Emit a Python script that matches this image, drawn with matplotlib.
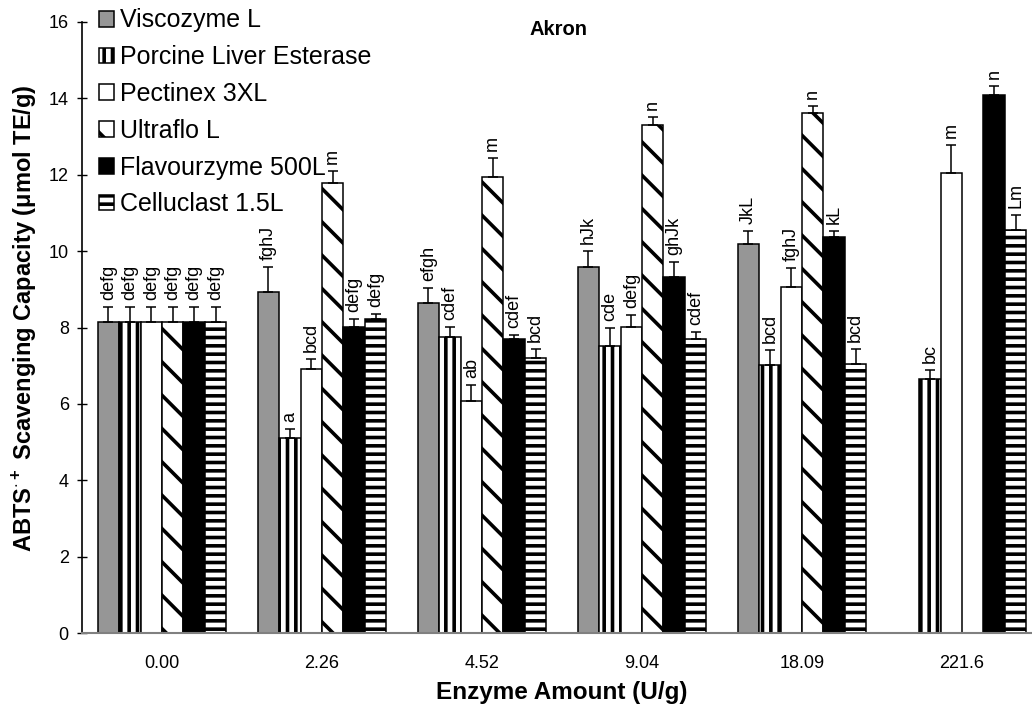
import numpy as np
import matplotlib
matplotlib.use("Agg")
import matplotlib.pyplot as plt

plt.rcParams['font.family'] = ['Liberation Sans', 'DejaVu Sans']
plt.rcParams['mathtext.fontset'] = 'custom'
plt.rcParams['mathtext.rm'] = 'Liberation Sans'
plt.rcParams['mathtext.bf'] = 'Liberation Sans:bold'
plt.rcParams['hatch.linewidth'] = 2.6
plt.rcParams['hatch.color'] = 'black'

nan = np.nan

amounts = ["0.00", "2.26", "4.52", "9.04", "18.09", "221.6"]
enzymes = ["Viscozyme L", "Porcine Liver Esterase", "Pectinex 3XL",
           "Ultraflo L", "Flavourzyme 500L", "Celluclast 1.5L"]

viscozyme   = [8.14, 8.93, 8.64, 9.58, 10.19, nan]
esterase    = [8.14, 5.11, 7.75, 7.51, 7.02, 6.65]
pectinex    = [8.14, 6.91, 6.07, 8.01, 9.06, 12.05]
ultraflo    = [8.14, 11.78, 11.94, 13.30, 13.62, nan]
flavourzyme = [8.14, 8.01, 7.70, 9.32, 10.37, 14.09]
celluclast  = [8.14, 8.22, 7.20, 7.70, 7.05, 10.55]

viscozyme_err   = [0.40, 0.65, 0.39, 0.42, 0.34, nan]
esterase_err    = [0.40, 0.23, 0.26, 0.48, 0.39, 0.25]
pectinex_err    = [0.40, 0.26, 0.42, 0.32, 0.50, 0.73]
ultraflo_err    = [0.40, 0.32, 0.50, 0.21, 0.18, nan]
flavourzyme_err = [0.40, 0.21, 0.10, 0.39, 0.16, 0.23]
celluclast_err  = [0.40, 0.13, 0.25, 0.18, 0.40, 0.40]

viscozyme_sig   = ["defg", "fghJ", "efgh", "hJk", "JkL", ""]
esterase_sig    = ["defg", "a", "cdef", "cde", "bcd", "bc"]
pectinex_sig    = ["defg", "bcd", "ab", "defg", "fghJ", "m"]
ultraflo_sig    = ["defg", "m", "m", "n", "n", ""]
flavourzyme_sig = ["defg", "defg", "cdef", "ghJk", "kL", "n"]
celluclast_sig  = ["defg", "defg", "bcd", "cdef", "bcd", "Lm"]

values = [viscozyme, esterase, pectinex, ultraflo, flavourzyme, celluclast]
errors = [viscozyme_err, esterase_err, pectinex_err, ultraflo_err,
          flavourzyme_err, celluclast_err]
letters = [viscozyme_sig, esterase_sig, pectinex_sig, ultraflo_sig,
           flavourzyme_sig, celluclast_sig]

styles = [
    dict(facecolor="#969696", hatch=None),
    dict(facecolor="white", hatch="||"),
    dict(facecolor="white", hatch=None),
    dict(facecolor="white", hatch="\\"),
    dict(facecolor="black", hatch=None),
    dict(facecolor="white", hatch="--"),
]

fig = plt.figure(figsize=(10.32, 7.10), dpi=100)
ax = fig.add_axes([82 / 1032, 1 - 633 / 710, 960 / 1032, 611 / 710])

x = np.arange(len(amounts))
w = 0.134

for i, (vals, errs, sig, st) in enumerate(zip(values, errors, letters, styles)):
    pos = x + (i - 2.5) * w
    ax.bar(pos, vals, w, facecolor=st["facecolor"], hatch=st["hatch"],
           edgecolor="black", linewidth=1.1, label=enzymes[i], zorder=2)
    lo = np.zeros(len(errs))
    ax.errorbar(pos, vals, yerr=[lo, errs], fmt="none", ecolor="black",
                elinewidth=1.1, capsize=3.5, capthick=1.1, zorder=3)
    for p, v, e, s in zip(pos, vals, errs, sig):
        if s and not np.isnan(v):
            ax.annotate(s, (p, v + e), xytext=(0, 5), textcoords="offset points",
                        rotation=90, ha="center", va="bottom", fontsize=13)

ax.set_xlim(-0.5, 5.5)
ax.set_ylim(0, 16)
ax.set_yticks(np.arange(0, 17, 2))
ax.set_xticks(x)
ax.set_xticklabels(amounts)
ax.tick_params(axis="x", length=0, pad=16, labelsize=13)
ax.tick_params(axis="y", direction="inout", length=7, width=1, labelsize=13, pad=6)

ax.spines["top"].set_visible(False)
ax.spines["right"].set_visible(False)
ax.spines["left"].set_linewidth(1.2)
ax.spines["bottom"].set_color("#808080")
ax.spines["bottom"].set_linewidth(1.5)

ax.set_xlabel("Enzyme Amount (U/g)", fontsize=17.5, fontweight="bold")
ax.xaxis.set_label_coords(0.5, -0.078)
ax.set_ylabel(r"ABTS$^{\mathbf{\cdot +}}$ Scavenging Capacity (μmol TE/g)",
              fontsize=17, fontweight="bold")
ax.yaxis.set_label_coords(-0.045, 0.515)

ax.text(0.496, 0.987, "Akron", transform=ax.transAxes, ha="center", va="center",
        fontsize=14.5, fontweight="bold")

leg = ax.legend(loc="upper left", bbox_to_anchor=(86 / 1032, 1 + 4 / 710),
                bbox_transform=fig.transFigure, frameon=False, fontsize=18,
                handlelength=0.6, handleheight=0.6, handletextpad=0.25,
                labelspacing=0.51, borderpad=0)

fig.savefig("out.png", dpi=100)
plt.close(fig)
